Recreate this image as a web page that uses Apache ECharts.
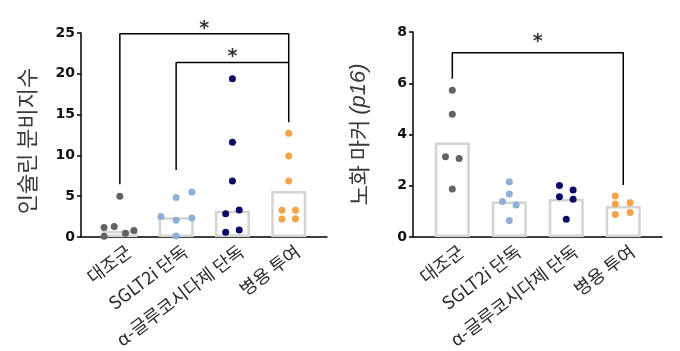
<!DOCTYPE html>
<html>
<head>
<meta charset="utf-8">
<script src="https://cdn.jsdelivr.net/npm/echarts@6/dist/echarts.min.js"></script>
<style>
  html, body { margin: 0; padding: 0; background: #fff; }
  #chart { width: 680px; height: 351px; }
</style>
</head>
<body>
<div id="chart"></div>
<script>
// group names
var categories = ['대조군', 'SGLT2i 단독', 'α-글루코시다제 단독', '병용 투여'];
var groupColors = ['#636363', '#8eb0d8', '#0b0b68', '#f4a447'];

// left panel: insulin secretion index
var insulinBars = [0.78, 2.41, 3.23, 5.65];
var insulinDots = [
  [4.99, 1.15, 1.29, 0.47, 0.80, 0.08],
  [5.52, 4.83, 2.50, 2.05, 2.33, 0.12],
  [19.39, 11.62, 6.87, 2.86, 3.31, 0.57, 0.86],
  [12.72, 9.94, 6.87, 3.27, 3.27, 2.21, 2.25]
];
var insulinJitter = [
  [0, -0.28, -0.1, 0.1, 0.25, -0.28],
  [0.28, 0, -0.27, 0, 0.28, 0],
  [0, 0, 0, -0.12, 0.12, -0.12, 0.12],
  [0, 0, 0, -0.12, 0.12, -0.12, 0.12]
];

// right panel: p16
var p16Bars = [3.69, 1.39, 1.48, 1.21];
var p16Dots = [
  [5.73, 4.79, 3.13, 3.06, 1.87],
  [2.16, 1.68, 1.39, 1.25, 0.64],
  [2.01, 1.83, 1.57, 1.47, 0.69],
  [1.60, 1.29, 1.34, 0.88, 0.96]
];
var p16Jitter = [
  [0, 0, -0.12, 0.12, 0],
  [0, 0, -0.12, 0.12, 0],
  [-0.12, 0.12, -0.12, 0.12, 0],
  [-0.14, -0.14, 0.12, -0.14, 0.12]
];

// significance brackets [x, y]
var insulinBrackets = [
  [[0, 6.46], [0, 24.9], [3, 24.9], [3, 14.07]],
  [[1, 8.2], [1, 21.4], [3, 21.4]]
];
var insulinStars = [[1.5, 25.5], [2, 22.0]];
var p16Brackets = [
  [[0, 6.18], [0, 7.19], [3, 7.19], [3, 2.03]]
];
var p16Stars = [[1.5, 7.6]];

var fontNum = '"DejaVu Sans", "Liberation Sans", sans-serif';
var fontKr = '"Noto Sans CJK KR", "Liberation Sans", sans-serif';
var labelShift = 0.16; // rotated labels sit a little right of the bar centre

function makeX(idx) {
  return {
    type: 'value', gridIndex: idx, min: -0.69, max: 3.68,
    splitLine: { show: false },
    axisLine: { show: true, onZero: false, lineStyle: { color: '#000', width: 1.5 } },
    axisTick: { show: false },
    axisLabel: {
      customValues: [0, 1, 2, 3].map(function (i) { return i + labelShift; }),
      rotate: 37, margin: 12,
      fontSize: 18, color: '#2a2a2a', fontFamily: fontKr,
      formatter: function (v) { return categories[Math.round(v - labelShift)]; }
    }
  };
}

function makeY(idx, max, interval, name, namePad) {
  return {
    type: 'value', gridIndex: idx, min: 0, max: max, interval: interval,
    splitLine: { show: false },
    axisLine: { show: true, onZero: false, lineStyle: { color: '#000', width: 1.5 } },
    axisTick: { show: true, length: 4, lineStyle: { color: '#000', width: 1.5 } },
    axisLabel: { fontSize: 14, fontWeight: 'bold', color: '#111', fontFamily: fontNum, margin: 6 },
    name: name,
    nameLocation: 'middle',
    nameGap: 43,
    nameTextStyle: {
      fontSize: 22, color: '#3a3a3a', fontFamily: fontKr,
      padding: namePad,
      rich: {
        i: { fontSize: 22, color: '#3a3a3a', fontStyle: 'italic', fontFamily: '"Liberation Sans", sans-serif' }
      }
    }
  };
}

function panelSeries(idx, bars, dots, jitter, brackets, stars) {
  var list = [];
  list.push({
    type: 'bar', xAxisIndex: idx, yAxisIndex: idx,
    barWidth: 35,
    data: bars.map(function (v, i) { return [i, v]; }),
    itemStyle: { color: '#fff', borderColor: '#d4d4d4', borderWidth: 2.5 },
    silent: true, z: 1
  });
  dots.forEach(function (vals, g) {
    list.push({
      type: 'scatter', xAxisIndex: idx, yAxisIndex: idx,
      symbolSize: 7,
      itemStyle: { color: groupColors[g], opacity: 1 },
      data: vals.map(function (v, k) { return [g + jitter[g][k], v]; }),
      z: 3
    });
  });
  brackets.forEach(function (b) {
    list.push({
      type: 'line', xAxisIndex: idx, yAxisIndex: idx,
      data: b, symbol: 'none', clip: false,
      lineStyle: { color: '#000', width: 1.5 }, z: 4, silent: true
    });
  });
  list.push({
    type: 'scatter', xAxisIndex: idx, yAxisIndex: idx,
    data: stars, symbolSize: 2, clip: false,
    itemStyle: { color: 'rgba(0,0,0,0)' },
    label: {
      show: true, position: 'inside', formatter: '*',
      fontSize: 19, fontWeight: 'bold', color: '#000', fontFamily: fontNum
    },
    z: 5, silent: true
  });
  return list;
}

var chart = echarts.init(document.getElementById('chart'));
chart.setOption({
  animation: false,
  backgroundColor: '#fff',
  grid: [
    { left: 81, right: 353, top: 33, bottom: 114, outerBoundsMode: 'none' },
    { left: 413, right: 18, top: 32, bottom: 114, outerBoundsMode: 'none' }
  ],
  xAxis: [makeX(0), makeX(1)],
  yAxis: [
    makeY(0, 25, 5, '인슐린 분비지수', [0, 12, 0, 0]),
    makeY(1, 8, 2, '노화 마커 {i|(p16)}', 0)
  ],
  series: panelSeries(0, insulinBars, insulinDots, insulinJitter, insulinBrackets, insulinStars)
    .concat(panelSeries(1, p16Bars, p16Dots, p16Jitter, p16Brackets, p16Stars))
});
</script>
</body>
</html>
